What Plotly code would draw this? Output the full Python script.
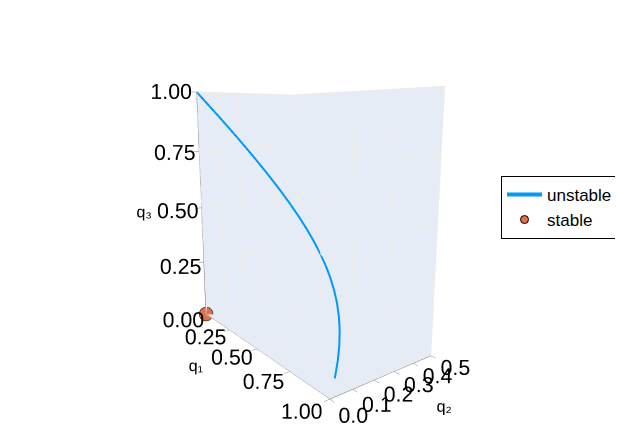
import plotly.graph_objects as go

# unstable branch (q1, q2, q3) along the curve
q1_unstable = [0.0, 0.0025, 0.01, 0.0225, 0.04, 0.0625, 0.09, 0.1225, 0.16, 0.2025,
               0.25, 0.3025, 0.36, 0.4225, 0.49, 0.5625, 0.64, 0.7225, 0.81, 0.9025]
q2_unstable = [0.0, 0.095, 0.18, 0.255, 0.32, 0.375, 0.42, 0.455, 0.48, 0.495,
               0.5, 0.495, 0.48, 0.455, 0.42, 0.375, 0.32, 0.255, 0.18, 0.095]
q3_unstable = [1.0, 0.9025, 0.81, 0.7225, 0.64, 0.5625, 0.49, 0.4225, 0.36, 0.3025,
               0.25, 0.2025, 0.16, 0.1225, 0.09, 0.0625, 0.04, 0.0225, 0.01, 0.0025]

# stable point
q1_stable = [0.0]
q2_stable = [0.0]
q3_stable = [0.0]

q13_ticks = [0.0, 0.25, 0.5, 0.75, 1.0]
q13_labels = ["0.00", "0.25", "0.50", "0.75", "1.00"]
q2_ticks = [0.0, 0.1, 0.2, 0.3, 0.4, 0.5]
q2_labels = ["0.0", "0.1", "0.2", "0.3", "0.4", "0.5"]

font = "Liberation Sans, Arial, sans-serif"
grid = "rgb(238,234,230)"
wall = "#E5ECF6"

fig = go.Figure()
fig.add_trace(go.Scatter3d(
    x=q1_unstable, y=q2_unstable, z=q3_unstable,
    mode="lines", name="unstable",
    line=dict(color="#009AFA", width=4),
))
fig.add_trace(go.Scatter3d(
    x=q1_stable, y=q2_stable, z=q3_stable,
    mode="markers", name="stable",
    marker=dict(color="#E26F46", size=8, line=dict(color="black", width=1)),
))


def axis(title, ticks, labels):
    return dict(
        title=dict(text=title, font=dict(size=16, family=font, color="black")),
        range=[ticks[0], ticks[-1]], tickvals=ticks, ticktext=labels,
        tickfont=dict(size=16, family=font, color="black"), tickangle=0,
        showbackground=True, backgroundcolor=wall,
        gridcolor=grid, zeroline=False,
        showline=True, linecolor="rgba(0,0,0,0.6)", linewidth=1,
        ticks="outside", tickcolor="rgba(0,0,0,0.5)", ticklen=5,
        showspikes=False,
    )


fig.update_layout(
    width=623, height=438,
    paper_bgcolor="white",
    margin=dict(l=106, r=130, t=0, b=20),
    showlegend=True,
    legend=dict(
        x=1.0, y=0.523, xanchor="left", yanchor="middle",
        bordercolor="black", borderwidth=1, itemwidth=35,
        font=dict(size=17, family=font, color="black"),
    ),
    scene=dict(
        xaxis=axis("q₁", q13_ticks, q13_labels),
        yaxis=axis("q₂", q2_ticks, q2_labels),
        zaxis=axis("q₃", q13_ticks, q13_labels),
        aspectmode="data",
        camera=dict(eye=dict(x=2.08, y=-1.57, z=0.52)),
    ),
)

fig.write_html("out.html")
